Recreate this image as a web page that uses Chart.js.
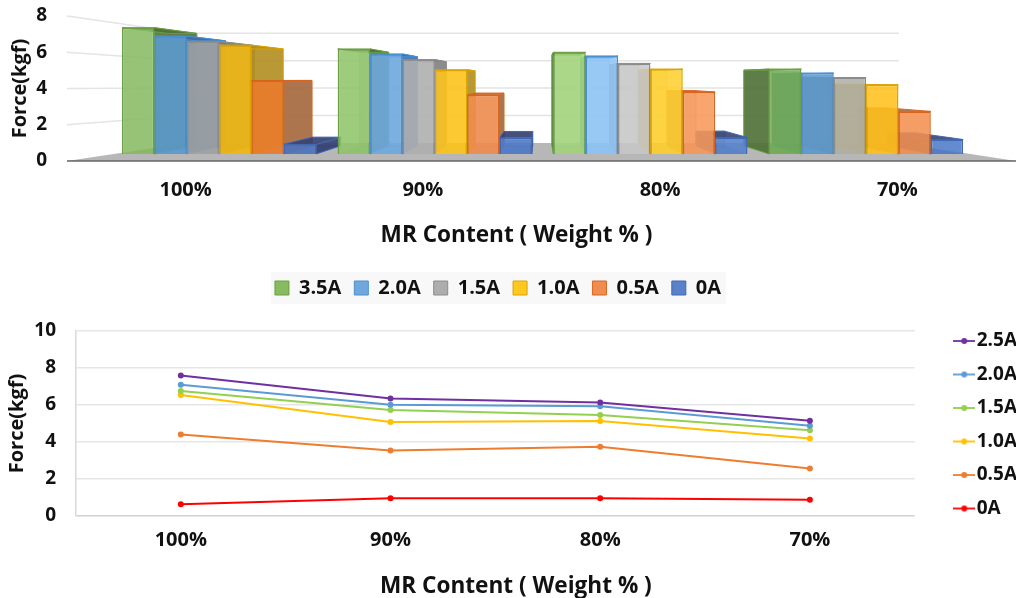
<!DOCTYPE html>
<html>
<head>
<meta charset="utf-8">
<script src="https://cdn.jsdelivr.net/npm/chart.js@4"></script>
<style>
html, body { margin:0; padding:0; background:#fff; }
#wrap { position:relative; width:1016px; height:598px; overflow:hidden; }
canvas { position:absolute; left:0; }
#barChart { top:0; }
#lineChart { top:317px; }
</style>
</head>
<body>
<div id="wrap">
<canvas id="barChart" width="1016" height="310"></canvas>
<canvas id="lineChart" width="1027" height="283"></canvas>
</div>
<script>
var categories = ["100%", "90%", "80%", "70%"];
var barTicks = [0, 2, 4, 6, 8];
var lineTicks = [0, 2, 4, 6, 8, 10];

// top chart, bar front heights
var bar35 = [7.6, 6.32, 6.12, 5.11];
var bar20 = [7.1, 6.02, 5.9, 4.87];
var bar15 = [6.78, 5.68, 5.45, 4.6];
var bar10 = [6.55, 5.07, 5.11, 4.16];
var bar05 = [4.42, 3.56, 3.73, 2.56];
var bar00 = [0.58, 0.97, 0.99, 0.87];

// bottom chart
var line25 = [7.6, 6.35, 6.13, 5.15];
var line20 = [7.09, 6.02, 5.93, 4.88];
var line15 = [6.76, 5.73, 5.46, 4.64];
var line10 = [6.54, 5.08, 5.13, 4.19];
var line05 = [4.41, 3.54, 3.74, 2.57];
var line00 = [0.63, 0.96, 0.96, 0.88];

var FONT = "'Open Sans', 'Noto Sans', sans-serif";
var TEXT = "#111111";

// the front of each bar changes a bit per group because of the 3D lighting
var barLabels = ["3.5A", "2.0A", "1.5A", "1.0A", "0.5A", "0A"];
var barValues = [bar35, bar20, bar15, bar10, bar05, bar00];
var frontColors = [
    ["#88bb62e0", "#8fc56ae0", "#a5d67ee0", "#72ad52e0"],
    ["#5b9bd0e0", "#70aae0e0", "#90c6f7e0", "#5b98cce0"],
    ["#a0a2a2e0", "#b0b0b0e0", "#cacacae0", "#b0b0a8e0"],
    ["#f2b80ce0", "#ffc51ce0", "#ffd030e0", "#ffc01ce0"],
    ["#ea7a2ce0", "#f08c4ee0", "#f8985ae0", "#f29050e0"],
    ["#4a74c0e0", "#4f7ac8e0", "#5580cce0", "#4f7ac8e0"]
];
var borderColors = ["#6a9f45", "#4a90d0", "#8c8c8c", "#dba400", "#d8651f", "#3f68b5"];
var sideColors = ["#4f7036", "#3f6ea6", "#7f7f7f", "#b08e20", "#a5663a", "#323e70"];
var legendColors = ["#86bb60", "#70a8dd", "#adadad", "#ffc81f", "#f08c4f", "#5b82c8"];

var VP_X = 540, VP_Y = 80, DEPTH = 0.11;
var LEGEND_SHIFT = -10;

function toBack(x, y) {
    return [x + (VP_X - x) * DEPTH, y + (VP_Y - y) * DEPTH];
}

function poly(ctx, pts, fill, stroke) {
    ctx.beginPath();
    ctx.moveTo(pts[0][0], pts[0][1]);
    for (var i = 1; i < pts.length; i++) {
        ctx.lineTo(pts[i][0], pts[i][1]);
    }
    ctx.closePath();
    ctx.fillStyle = fill;
    ctx.fill();
    if (stroke) {
        ctx.strokeStyle = stroke;
        ctx.lineWidth = 1;
        ctx.stroke();
    }
}

// the axis titles are not centred on the plot in the original, slide the box they centre on
function titleShift(dx) {
    return {
        id: "titleShift",
        beforeDraw: function(chart) {
            var x = chart.scales.x;
            x.left = chart.chartArea.left + dx;
            x.right = chart.chartArea.right + dx;
        }
    };
}

// let the plot reach the top without room for half a tick label
function noTickPadding(axis) {
    axis.paddingTop = 0;
    axis.paddingBottom = 0;
    axis.paddingLeft = 0;
    axis.paddingRight = 0;
}

// floor, walls and legend backdrop behind the bars
var roomPlugin = {
    id: "room",
    beforeDatasetsDraw: function(chart) {
        var ctx = chart.ctx;
        var a = chart.chartArea;
        var y = chart.scales.y;
        var inset = 120, insetR = 117;
        var floorY = y.getPixelForValue(0);
        var backFloor = floorY - 18;
        var wallScale = 0.757;
        ctx.save();
        ctx.strokeStyle = "#e4e4e4";
        ctx.lineWidth = 1.5;
        for (var i = 1; i < barTicks.length; i++) {
            var front = y.getPixelForValue(barTicks[i]);
            var back = backFloor - (floorY - front) * wallScale;
            ctx.beginPath();
            ctx.moveTo(a.left, front);
            ctx.lineTo(a.left + inset, back);
            ctx.lineTo(a.right - insetR, back);
            ctx.stroke();
        }
        poly(ctx, [[a.left, floorY], [a.left + inset, backFloor], [a.right - insetR, backFloor], [a.right, floorY]], "#b7b7b7");
        ctx.strokeStyle = "#666666";
        ctx.lineWidth = 1.5;
        ctx.beginPath();
        ctx.moveTo(a.left, floorY);
        ctx.lineTo(a.right, floorY);
        ctx.stroke();

        // box faces, far bars first
        var bars = [];
        chart.data.datasets.forEach(function(ds, d) {
            chart.getDatasetMeta(d).data.forEach(function(bar) {
                bars.push({ el: bar, d: d });
            });
        });
        bars.sort(function(p, q) {
            return Math.abs(q.el.x - VP_X) - Math.abs(p.el.x - VP_X);
        });
        bars.forEach(function(b) {
            var hw = b.el.width / 2;
            var x1 = b.el.x - hw, x2 = b.el.x + hw, top = b.el.y, base = b.el.base;
            var sx = b.el.x < VP_X ? x2 : x1;
            var col = sideColors[b.d];
            var bl = toBack(x1, base), br = toBack(x2, base), tl = toBack(x1, top), tr = toBack(x2, top);
            var ss = toBack(sx, top), sb = toBack(sx, base);
            poly(ctx, [bl, br, tr, tl], col + "30", borderColors[b.d] + "80");
            poly(ctx, [[x1, base], [x2, base], br, bl], col + "50");
            poly(ctx, [[sx, top], ss, sb, [sx, base]], col + "e0", borderColors[b.d]);
            poly(ctx, [[x1, top], [x2, top], tr, tl], col + "e0", borderColors[b.d]);
        });
        ctx.restore();
    },
    beforeDraw: function(chart) {
        var legend = chart.legend;
        var boxes = legend.legendHitBoxes;
        if (!boxes || !boxes.length) return;
        var last = boxes[boxes.length - 1];
        var ctx = chart.ctx;
        ctx.save();
        ctx.fillStyle = "#f8f8f8";
        ctx.fillRect(boxes[0].left - 4 + LEGEND_SHIFT, boxes[0].top - 6, last.left + last.width - boxes[0].left + 9, 32);
        ctx.restore();
        // legend sits a little left of the canvas centre
        legend.left += LEGEND_SHIFT;
        legend.right += LEGEND_SHIFT;
    }
};

var barDatasets = [];
for (var s = 0; s < barLabels.length; s++) {
    barDatasets.push({
        label: barLabels[s],
        data: barValues[s].map(function(v, i) { return { x: i + 1, y: v }; }),
        backgroundColor: frontColors[s],
        borderColor: borderColors[s],
        borderWidth: 1.5,
        xAxisID: "xBars",
        yAxisID: "yBars",
        barPercentage: 1,
        categoryPercentage: 0.9
    });
}

new Chart(document.getElementById("barChart"), {
    type: "bar",
    data: { labels: categories, datasets: barDatasets },
    plugins: [roomPlugin, titleShift(-25)],
    options: {
        responsive: false,
        animation: false,
        layout: { padding: { top: 16, left: 0, right: 0, bottom: 2 } },
        plugins: {
            tooltip: { enabled: false },
            legend: {
                position: "bottom",
                labels: {
                    boxWidth: 14,
                    boxHeight: 14,
                    padding: 13,
                    color: TEXT,
                    font: { family: FONT, size: 20, weight: "700" },
                    generateLabels: function(chart) {
                        return barLabels.map(function(t, i) {
                            return {
                                text: t,
                                fillStyle: legendColors[i],
                                strokeStyle: borderColors[i],
                                lineWidth: 1,
                                datasetIndex: i,
                                fontColor: TEXT
                            };
                        });
                    }
                }
            }
        },
        scales: {
            x: {
                type: "category",
                position: "bottom",
                labels: categories,
                grid: { display: false },
                border: { display: false },
                ticks: { color: TEXT, padding: 9, font: { family: FONT, size: 20, weight: "700" } },
                title: { display: true, text: "MR Content ( Weight % )", color: TEXT, padding: { top: 18, bottom: 16 }, font: { family: FONT, size: 22.6, weight: "700" } },
                afterFit: function(axis) { axis.height = 104; noTickPadding(axis); }
            },
            y: {
                type: "linear",
                position: "left",
                min: 0,
                max: 8,
                grid: { display: false },
                border: { display: false },
                ticks: { stepSize: 2, color: TEXT, padding: 12, font: { family: FONT, size: 19, weight: "700" } },
                title: { display: true, text: "Force(kgf)", color: TEXT, padding: { top: 8, bottom: 6 }, font: { family: FONT, size: 20, weight: "700" } },
                afterFit: function(axis) { axis.width = 67; noTickPadding(axis); }
            },
            // bars sit on their own scales because the front plane is smaller than the axis plane
            xBars: { type: "linear", display: false, position: "bottom", offset: false, min: 0.295, max: 4.695, ticks: { stepSize: 1, includeBounds: false } },
            yBars: { type: "linear", display: false, position: "left", min: -0.424, max: 8.303 }
        }
    }
});

// legend symbol: short line with a dot
function lineSymbol(color) {
    var c = document.createElement("canvas");
    c.width = 22;
    c.height = 10;
    var g = c.getContext("2d");
    g.strokeStyle = color;
    g.lineWidth = 1.8;
    g.beginPath();
    g.moveTo(0, 5);
    g.lineTo(22, 5);
    g.stroke();
    g.fillStyle = color;
    g.beginPath();
    g.arc(11, 5, 3, 0, Math.PI * 2);
    g.fill();
    return c;
}

var lineLabels = ["2.5A", "2.0A", "1.5A", "1.0A", "0.5A", "0A"];
var lineValues = [line25, line20, line15, line10, line05, line00];
var lineColors = ["#7030a0", "#5b9bd5", "#92d050", "#ffc000", "#ed7d31", "#ff0000"];

var lineDatasets = [];
for (var n = 0; n < lineLabels.length; n++) {
    lineDatasets.push({
        label: lineLabels[n],
        data: lineValues[n],
        borderColor: lineColors[n],
        backgroundColor: lineColors[n],
        borderWidth: 2,
        pointRadius: 3,
        pointBorderWidth: 0,
        tension: 0,
        order: n
    });
}

new Chart(document.getElementById("lineChart"), {
    type: "line",
    data: { labels: categories, datasets: lineDatasets },
    plugins: [titleShift(20.5)],
    options: {
        responsive: false,
        animation: false,
        layout: { padding: 0 },
        plugins: {
            tooltip: { enabled: false },
            legend: {
                position: "right",
                align: "start",
                labels: {
                    usePointStyle: true,
                    pointStyleWidth: 6,
                    padding: 14.5,
                    color: TEXT,
                    font: { family: FONT, size: 19, weight: "700" },
                    generateLabels: function(chart) {
                        return lineLabels.map(function(t, i) {
                            return {
                                text: t,
                                pointStyle: lineSymbol(lineColors[i]),
                                fillStyle: lineColors[i],
                                strokeStyle: lineColors[i],
                                lineWidth: 0,
                                datasetIndex: i,
                                fontColor: TEXT
                            };
                        });
                    }
                }
            }
        },
        scales: {
            x: {
                type: "category",
                position: "bottom",
                offset: true,
                grid: { display: false },
                border: { display: false },
                ticks: { color: TEXT, padding: 4, font: { family: FONT, size: 20, weight: "700" } },
                title: { display: true, text: "MR Content ( Weight % )", color: TEXT, padding: { top: 18, bottom: 0 }, font: { family: FONT, size: 22.6, weight: "700" } },
                afterFit: function(axis) { axis.height = 84; noTickPadding(axis); }
            },
            xTop: {
                type: "category",
                position: "top",
                labels: categories,
                grid: { display: false },
                border: { display: false },
                ticks: { display: false },
                afterFit: function(axis) { axis.height = 14; noTickPadding(axis); }
            },
            y: {
                type: "linear",
                position: "left",
                min: 0,
                max: 10,
                grid: {
                    color: function(c) { return c.tick && c.tick.value === 0 ? "#d2d2d2" : "#e6e6e6"; },
                    lineWidth: 1.5,
                    drawTicks: false
                },
                border: { color: "#d9d9d9", width: 1.5 },
                ticks: { stepSize: 2, color: TEXT, padding: 20, font: { family: FONT, size: 19, weight: "700" } },
                title: { display: true, text: "Force(kgf)", color: TEXT, padding: { top: 5, bottom: 6 }, font: { family: FONT, size: 20, weight: "700" } },
                afterFit: function(axis) { axis.width = 76; noTickPadding(axis); }
            },
            yGap: {
                type: "linear",
                position: "right",
                grid: { display: false },
                border: { display: false },
                ticks: { display: false },
                afterFit: function(axis) { axis.width = 32; noTickPadding(axis); }
            }
        }
    }
});
</script>
</body>
</html>
